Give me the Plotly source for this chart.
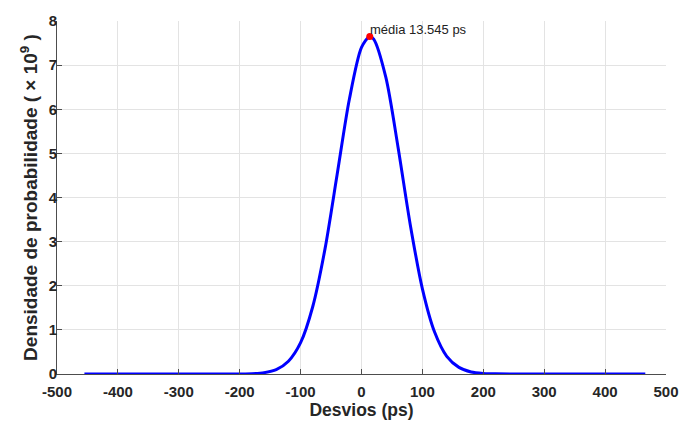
import plotly.graph_objects as go

# Values (x in ps, density in units of 1e9)
desvios = [-455, -300, -220, -200, -180, -160, -140, -120, -100, -80, -60, -40, -20, 0,
           13.545, 20, 40, 60, 80, 100, 120, 140, 160, 180, 200, 220, 300, 466]
densidade = [0.0, 0.0, 0.0, 0.002, 0.008, 0.03, 0.10, 0.29, 0.71, 1.53, 2.83, 4.52, 6.22, 7.40,
             7.65, 7.59, 6.72, 5.14, 3.39, 1.93, 0.95, 0.40, 0.15, 0.046, 0.013, 0.003, 0.0, 0.0]
media_x = 13.545
media_y = 7.65
x_ticks = [-500, -400, -300, -200, -100, 0, 100, 200, 300, 400, 500]
y_ticks = [0, 1, 2, 3, 4, 5, 6, 7, 8]

FONT = "Liberation Sans, Arial, sans-serif"

fig = go.Figure()
fig.add_trace(go.Scatter(x=desvios, y=densidade, mode="lines",
                         line=dict(color="#0000ff", width=3, shape="spline", smoothing=0.8),
                         hoverinfo="skip", showlegend=False))
fig.add_trace(go.Scatter(x=[media_x], y=[media_y], mode="markers",
                         marker=dict(color="#ff0000", size=7), showlegend=False))
fig.add_annotation(x=media_x, y=media_y, text="média 13.545 ps", showarrow=False,
                   xanchor="left", yanchor="bottom", xshift=-2, yshift=-3,
                   font=dict(family=FONT, size=13, color="#222222"))

fig.update_layout(
    width=691, height=430,
    margin=dict(l=57, r=14, t=14, b=56),
    paper_bgcolor="white", plot_bgcolor="white",
    font=dict(family=FONT, color="#262626"),
)
fig.update_xaxes(range=[-500, 500], tickvals=x_ticks, ticktext=[str(v) for v in x_ticks],
                 showgrid=True, gridcolor="#e3e3e3", gridwidth=1,
                 showline=True, linecolor="#4d4d4d", linewidth=1,
                 ticks="inside", ticklen=5, tickcolor="#4d4d4d",
                 zeroline=False, ticklabelstandoff=4,
                 tickfont=dict(family=FONT, size=15, color="#262626", weight="bold"),
                 title=dict(text="<b>Desvios (ps)</b>", font=dict(family=FONT, size=17.5, color="#262626"),
                            standoff=2))
fig.update_yaxes(range=[0, 8], tickvals=y_ticks, ticktext=[str(v) for v in y_ticks],
                 showgrid=True, gridcolor="#e3e3e3", gridwidth=1,
                 showline=True, linecolor="#4d4d4d", linewidth=1,
                 ticks="inside", ticklen=5, tickcolor="#4d4d4d",
                 zeroline=False, ticklabelstandoff=-4,
                 tickfont=dict(family=FONT, size=15, color="#262626", weight="bold"),
                 title=dict(text="<b>Densidade de probabilidade ( × 10<sup>9</sup> )</b>",
                            font=dict(family=FONT, size=19, color="#262626"), standoff=6))

fig.write_html("out.html")
